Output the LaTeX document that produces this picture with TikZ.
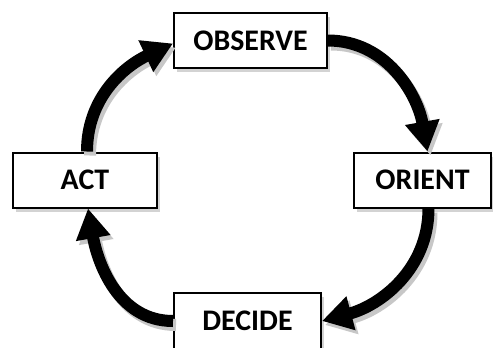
\documentclass[tikz,border=0pt]{standalone}
\usepackage{fontspec}
\setmainfont{Carlito}
\usetikzlibrary{arrows.meta,shadows}

\tikzset{
  stage/.style={draw, line width=2bp, fill=white, minimum height=55bp,
    font=\fontsize{30}{32}\selectfont\bfseries,
    drop shadow={opacity=0.35, shadow xshift=3bp, shadow yshift=-4bp}},
  loop/.style={line width=12bp, -{Triangle[length=30bp,width=33bp]}},
  loopshadow/.style={loop, black!22, transform canvas={shift={(3bp,-4bp)}}}
}

\begin{document}
\begin{tikzpicture}[x=1bp,y=1bp]
    \useasboundingbox (0,0) rectangle (493,-347);

    % Stages
    \node[stage, minimum width=153bp] (observe) at (250.5,-40.5) {OBSERVE};
    \node[stage, minimum width=144bp] (act) at (85,-180) {ACT};
    \node[stage, minimum width=137bp] (orient) at (422.5,-180) {ORIENT};
    \node[stage, minimum width=147bp, minimum height=56bp] (decide) at (247.5,-321) {DECIDE};

    % Loop arrows (shadow first)
    \foreach \style in {loopshadow,loop} {
        \draw[\style] (observe.east) to[out=0,in=100] ([xshift=5bp]orient.north);
        \draw[\style] ([xshift=6bp]orient.south) to[out=-90,in=15] (decide.east);
        \draw[\style] (decide.west) to[out=180,in=-80] ([xshift=3bp]act.south);
        \draw[\style] ([xshift=2bp]act.north) to[out=90,in=-155] ([yshift=-3bp]observe.west);
    }

\end{tikzpicture}
\end{document}
